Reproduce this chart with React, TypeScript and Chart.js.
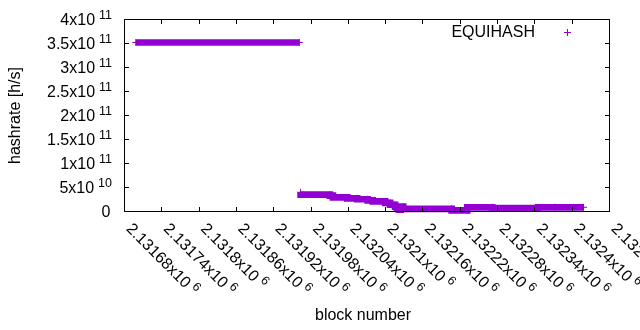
import React, { useEffect, useRef } from 'react';
import { Chart, registerables } from 'chart.js';

Chart.register(...registerables);

// ---- data ----
const seriesLabel = 'EQUIHASH';
const highBlocks = [2131699, 2131962];
const highValues = [3.51e11, 3.51e11];
const lowBlocks = [
  2131964, 2132011, 2132016, 2132039, 2132055, 2132072, 2132080, 2132100,
  2132108, 2132116, 2132119, 2132122, 2132125, 2132129, 2132207, 2132232,
  2132272, 2132346, 2132373, 2132419,
];
const lowValues = [
  3.9e10, 3.4e10, 3.2e10, 2.85e10, 2.65e10, 2.45e10, 2.2e10, 2.0e10,
  1.7e10, 1.3e10, 0.9e10, 0.5e10, 0.3e10, 0.9e10, 0.45e10, 0.15e10,
  0.77e10, 0.62e10, 0.77e10, 0.77e10,
];

const xTickValues = [
  2131680, 2131740, 2131800, 2131860, 2131920, 2131980, 2132040,
  2132100, 2132160, 2132220, 2132280, 2132340, 2132400, 2132460,
];
const xTickMantissas = [
  '2.13168', '2.13174', '2.1318', '2.13186', '2.13192', '2.13198', '2.13204',
  '2.1321', '2.13216', '2.13222', '2.13228', '2.13234', '2.1324', '2.13246',
];
const xTickExponent = '6';
const yTickValues = [0, 5e10, 1e11, 1.5e11, 2e11, 2.5e11, 3e11, 3.5e11, 4e11];
const yTickMantissas = ['0', '5', '1', '1.5', '2', '2.5', '3', '3.5', '4'];
const yTickExponents = ['', '10', '11', '11', '11', '11', '11', '11', '11'];
const xTitle = 'block number';
const yTitle = 'hashrate [h/s]';

const PURPLE = '#9400d3';
const FONT = '"Liberation Sans", Arial, sans-serif';
const MAIN_SIZE = 16;
const SUP_SIZE = 12.5;

const gnuplotFrame = {
  id: 'gnuplotFrame',
  afterDatasetsDraw(chart: any) {
    const { ctx, chartArea: a, scales } = chart;
    const x = scales.x;
    const y = scales.y;
    const L = Math.round(a.left) + 0.5;
    const R = Math.round(a.right) + 0.5;
    const T = Math.round(a.top) + 0.5;
    const B = Math.round(a.bottom) + 0.5;
    ctx.save();
    ctx.strokeStyle = '#000';
    ctx.lineWidth = 1;
    ctx.beginPath();
    ctx.rect(L, T, R - L, B - T);
    const tl = 4.5;
    xTickValues.forEach((v) => {
      const px = Math.round(x.getPixelForValue(v)) + 0.5;
      ctx.moveTo(px, B);
      ctx.lineTo(px, B - tl);
      ctx.moveTo(px, T);
      ctx.lineTo(px, T + tl);
    });
    yTickValues.forEach((v) => {
      const py = Math.round(y.getPixelForValue(v)) + 0.5;
      ctx.moveTo(L, py);
      ctx.lineTo(L + tl, py);
      ctx.moveTo(R, py);
      ctx.lineTo(R - tl, py);
    });
    ctx.stroke();

    // legend (gnuplot style: text then sample)
    ctx.fillStyle = '#000';
    ctx.font = `${MAIN_SIZE}px ${FONT}`;
    ctx.textAlign = 'right';
    ctx.textBaseline = 'middle';
    ctx.fillText(seriesLabel, a.right - 74, a.top + 14);
    const lx = a.right - 41.5;
    const ly = Math.round(a.top + 13) + 0.5;
    ctx.strokeStyle = PURPLE;
    ctx.beginPath();
    ctx.moveTo(lx - 3.5, ly);
    ctx.lineTo(lx + 3.5, ly);
    ctx.moveTo(lx, ly - 3.5);
    ctx.lineTo(lx, ly + 3.5);
    ctx.stroke();
    ctx.restore();
  },
  afterDraw(chart: any) {
    const { ctx, chartArea: a, scales } = chart;
    const x = scales.x;
    const y = scales.y;
    ctx.save();
    ctx.fillStyle = '#000';
    ctx.textBaseline = 'alphabetic';
    // y tick labels, right-justified with superscript exponent
    const yRight = a.left - 12;
    yTickValues.forEach((v, i) => {
      const py = y.getPixelForValue(v);
      const base = py + 5.5;
      const exp = yTickExponents[i];
      if (!exp) {
        ctx.font = `${MAIN_SIZE}px ${FONT}`;
        ctx.textAlign = 'right';
        ctx.fillText(yTickMantissas[i], yRight - 1.5, base);
        return;
      }
      ctx.font = `${SUP_SIZE}px ${FONT}`;
      const supW = ctx.measureText(exp).width;
      ctx.textAlign = 'left';
      ctx.fillText(exp, yRight - supW, base - 6);
      ctx.font = `${MAIN_SIZE}px ${FONT}`;
      ctx.textAlign = 'right';
      ctx.fillText(yTickMantissas[i] + 'x10', yRight - supW - 4, base);
    });
    // x tick labels rotated 45 degrees
    xTickValues.forEach((v, i) => {
      const px = x.getPixelForValue(v);
      ctx.save();
      ctx.translate(px + 4.5, a.bottom + 15.5);
      ctx.rotate(Math.PI / 4);
      ctx.font = `${MAIN_SIZE}px ${FONT}`;
      ctx.textAlign = 'left';
      ctx.textBaseline = 'middle';
      const main = xTickMantissas[i] + 'x10';
      ctx.fillText(main, 0, 0);
      const w = ctx.measureText(main).width;
      ctx.font = `${SUP_SIZE}px ${FONT}`;
      ctx.fillText(xTickExponent, w + 4, -5);
      ctx.restore();
    });
    // axis titles
    ctx.font = `${MAIN_SIZE}px ${FONT}`;
    ctx.textAlign = 'center';
    ctx.textBaseline = 'middle';
    ctx.fillText(xTitle, (a.left + a.right) / 2 - 3.5, 315.5);
    ctx.save();
    ctx.translate(16, (a.top + a.bottom) / 2 + 0.5);
    ctx.rotate(-Math.PI / 2);
    ctx.fillText(yTitle, 0, 0);
    ctx.restore();
    ctx.restore();
  },
};

export default function App() {
  const ref = useRef<HTMLCanvasElement | null>(null);
  useEffect(() => {
    if (!ref.current) return;
    const points: any[] = [];
    highBlocks.forEach((b, i) => points.push({ x: b, y: highValues[i] }));
    points.push({ x: (highBlocks[highBlocks.length - 1] + lowBlocks[0]) / 2, y: null });
    lowBlocks.forEach((b, i) => points.push({ x: b, y: lowValues[i] }));

    const chart = new Chart(ref.current, {
      type: 'line',
      data: {
        datasets: [
          {
            label: seriesLabel,
            data: points,
            stepped: 'after',
            borderColor: PURPLE,
            backgroundColor: PURPLE,
            borderWidth: 6.7,
            borderCapStyle: 'butt',
            borderJoinStyle: 'miter',
            pointStyle: 'cross',
            pointRadius: 3.5,
            pointBorderWidth: 1,
            pointBorderColor: PURPLE,
            pointHoverRadius: 3.5,
            spanGaps: false,
            fill: false,
            clip: false as any,
          } as any,
        ],
      },
      plugins: [gnuplotFrame],
      options: {
        animation: false,
        responsive: false,
        devicePixelRatio: 1,
        events: [],
        layout: { padding: { left: 124, top: 19, right: 31, bottom: 119 } },
        plugins: {
          legend: { display: false },
          tooltip: { enabled: false },
        },
        scales: {
          x: {
            type: 'linear',
            display: false,
            min: xTickValues[0],
            max: xTickValues[xTickValues.length - 1],
          },
          y: {
            type: 'linear',
            display: false,
            min: yTickValues[0],
            max: yTickValues[yTickValues.length - 1],
          },
        },
      } as any,
    });
    return () => chart.destroy();
  }, []);
  return (
    <div style={{ position: 'absolute', left: 0, top: 0, width: 640, height: 330, background: '#fff' }}>
      <canvas ref={ref} width={640} height={330} style={{ display: 'block', width: 640, height: 330 }} />
    </div>
  );
}
